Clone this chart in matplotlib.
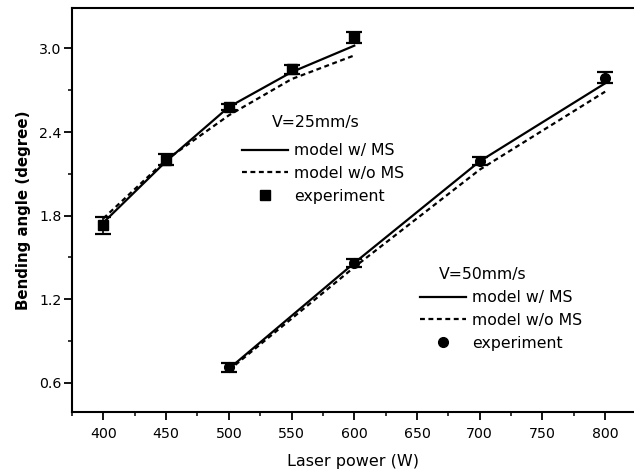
import matplotlib
matplotlib.use("Agg")
import matplotlib.pyplot as plt
from matplotlib.lines import Line2D
from matplotlib.ticker import MultipleLocator, FormatStrFormatter

plt.rcParams['font.family'] = ['DejaVu Sans']

# V = 25 mm/s
power_25 = [400, 450, 500, 550, 600]
model_ms_25 = [1.75, 2.19, 2.58, 2.83, 3.02]
model_noms_25 = [1.78, 2.20, 2.52, 2.78, 2.95]
exp_25 = [1.73, 2.20, 2.58, 2.85, 3.08]
err_25 = [0.06, 0.04, 0.02, 0.03, 0.04]

# V = 50 mm/s
power_50 = [500, 600, 700, 800]
model_ms_50 = [0.70, 1.46, 2.19, 2.75]
model_noms_50 = [0.69, 1.43, 2.13, 2.69]
exp_50 = [0.71, 1.46, 2.19, 2.79]
err_50 = [0.03, 0.03, 0.03, 0.04]

fig = plt.figure(figsize=(6.34, 4.75), dpi=100)
ax = fig.add_axes([0.1136, 0.1326, 0.8864, 0.8504])

lw = 1.6
dash = (0, (2.2, 1.6))
ax.plot(power_25, model_ms_25, '-', color='black', lw=lw)
ax.plot(power_25, model_noms_25, linestyle=dash, color='black', lw=lw)
ax.errorbar(power_25, exp_25, yerr=err_25, fmt='s', color='black', ms=6.5,
            capsize=5.5, elinewidth=1.2, capthick=1.6)

ax.plot(power_50, model_ms_50, '-', color='black', lw=lw)
ax.plot(power_50, model_noms_50, linestyle=dash, color='black', lw=lw)
ax.errorbar(power_50, exp_50, yerr=err_50, fmt='o', color='black', ms=7,
            capsize=5.5, elinewidth=1.2, capthick=1.6)

ax.set_xlim(375, 823)
ax.set_ylim(0.39, 3.29)
ax.xaxis.set_major_locator(MultipleLocator(50))
ax.xaxis.set_minor_locator(MultipleLocator(25))
ax.yaxis.set_major_locator(MultipleLocator(0.6))
ax.yaxis.set_minor_locator(MultipleLocator(0.3))
ax.yaxis.set_major_formatter(FormatStrFormatter('%.1f'))
ax.tick_params(which='major', direction='out', length=5.5, width=1.3, labelsize=10.2)
ax.tick_params(which='minor', direction='out', length=3, width=1.1)
ax.tick_params(axis='x', which='major', pad=5)
ax.tick_params(axis='y', which='major', pad=2)
ax.spines['right'].set_visible(False)
for s in ['left', 'bottom', 'top']:
    ax.spines[s].set_linewidth(1.5)

ax.set_xlabel('Laser power (W)', fontsize=11.5, labelpad=10)
ax.set_ylabel('Bending angle (degree)', fontsize=10.8, fontweight='bold', labelpad=6)


def handles(marker, ms):
    return [Line2D([], [], color='black', lw=lw, ls='-'),
            Line2D([], [], color='black', lw=lw, ls=dash),
            Line2D([], [], color='black', ls='none', marker=marker, ms=ms)]


labels = ['model w/ MS', 'model w/o MS', 'experiment']
legend_kw = dict(frameon=False, loc='upper left', bbox_transform=fig.transFigure,
                 fontsize=11.3, handlelength=2.9,
                 handletextpad=0.4, labelspacing=0.5)

# speed headings above each legend block
fig.text(272 / 634, 1 - 122 / 475, 'V=25mm/s', fontsize=11.3, va='center', ha='left')
fig.text(439 / 634, 1 - 274 / 475, 'V=50mm/s', fontsize=11.3, va='center', ha='left')

leg1 = ax.legend(handles('s', 6.5), labels,
                 bbox_to_anchor=(228 / 634, 1 - 129 / 475), **legend_kw)
ax.add_artist(leg1)
ax.legend(handles('o', 7), labels,
          bbox_to_anchor=(406 / 634, 1 - 276 / 475), **legend_kw)

fig.savefig('out.png', dpi=100)
